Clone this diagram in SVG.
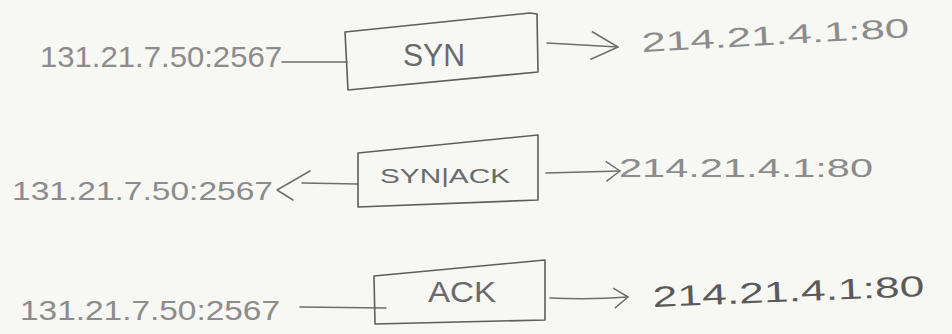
<svg xmlns="http://www.w3.org/2000/svg" width="952" height="334" viewBox="0 0 952 334">
  <style>
    .addr { font-family: "Liberation Sans", "DejaVu Sans", sans-serif; fill: #8c8c8c; }
    .addr.dark { fill: #5a5a5a; }
    .lbl { font-family: "Liberation Sans", "DejaVu Sans", sans-serif; fill: #6a6a6a; }
    .box { fill: none; stroke: #5e5e5e; stroke-width: 1.6; stroke-linejoin: round; }
    .wire { fill: none; stroke: #6e6e6e; stroke-width: 1.5; stroke-linecap: round; stroke-linejoin: round; }
  </style>
  <defs>
    <marker id="open" markerUnits="userSpaceOnUse" markerWidth="40" markerHeight="40" refX="30" refY="20" orient="auto" viewBox="0 0 40 40">
      <path d="M3,6 L30,20 L3,34" fill="none" stroke="#6e6e6e" stroke-width="1.5" stroke-linejoin="round"/>
    </marker>
    <marker id="openSmall" markerUnits="userSpaceOnUse" markerWidth="30" markerHeight="30" refX="20" refY="15" orient="auto" viewBox="0 0 30 30">
      <path d="M6,5 L20,15 L6,25" fill="none" stroke="#6e6e6e" stroke-width="1.5" stroke-linejoin="round"/>
    </marker>
  </defs>

  <rect width="952" height="334" fill="#f7f7f4"/>

  <!-- connectors -->
  <g id="connectors">
    <path class="wire" d="M282,62 L347,62"/>
    <path class="wire" d="M547,43 L618,47" marker-end="url(#open)"/>
    <path class="wire" d="M358,184 L302,183"/>
    <path class="wire" d="M310,171 L277,190 L293,200"/>
    <path class="wire" d="M546,173 L620,171" marker-end="url(#openSmall)"/>
    <path class="wire" d="M300,307 L386,308"/>
    <path class="wire" d="M550,298 Q590,300 628,297" marker-end="url(#openSmall)"/>
  </g>

  <!-- row 1: SYN -->
  <g id="client-1">
    <text class="addr" x="40" y="67" font-size="30" textLength="242" lengthAdjust="spacingAndGlyphs">131.21.7.50:2567</text>
  </g>
  <g id="syn">
    <path class="box" d="M345,32 L530,13 L537,14 L538,72 L348,90 Z"/>
    <text class="lbl" x="403" y="66" font-size="32" textLength="62" lengthAdjust="spacingAndGlyphs">SYN</text>
  </g>
  <g id="server-1">
    <text class="addr" x="642" y="52" font-size="27" textLength="268" lengthAdjust="spacingAndGlyphs" transform="rotate(-3.2 642 52)">214.21.4.1:80</text>
  </g>

  <!-- row 2: SYN|ACK -->
  <g id="client-2">
    <text class="addr" x="12" y="200" font-size="25" textLength="261" lengthAdjust="spacingAndGlyphs">131.21.7.50:2567</text>
  </g>
  <g id="synack">
    <path class="box" d="M358,153 L538,135 L538,200 L358,207 Z"/>
    <text class="lbl" x="380" y="183" font-size="21" textLength="130" lengthAdjust="spacingAndGlyphs">SYN|ACK</text>
  </g>
  <g id="server-2">
    <text class="addr" x="619" y="177" font-size="26" textLength="254" lengthAdjust="spacingAndGlyphs">214.21.4.1:80</text>
  </g>

  <!-- row 3: ACK -->
  <g id="client-3">
    <text class="addr" x="20" y="320" font-size="28" textLength="260" lengthAdjust="spacingAndGlyphs">131.21.7.50:2567</text>
  </g>
  <g id="ack">
    <path class="box" d="M374,276 L545,260 L545,320 L375,324 Z"/>
    <text class="lbl" x="428" y="302" font-size="29" textLength="68" lengthAdjust="spacingAndGlyphs">ACK</text>
  </g>
  <g id="server-3">
    <text class="addr dark" x="653" y="307" font-size="29" textLength="272" lengthAdjust="spacingAndGlyphs" transform="rotate(-2.3 653 307)">214.21.4.1:80</text>
  </g>
</svg>
